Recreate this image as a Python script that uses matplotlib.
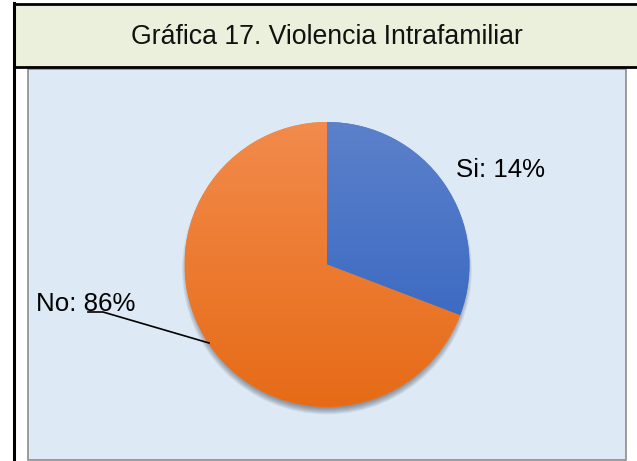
"""Gráfica 17 - Violencia Intrafamiliar (pie inside a table-like frame)."""

import numpy as np
import matplotlib.pyplot as plt
from matplotlib.patches import Rectangle, Circle
from matplotlib.colors import LinearSegmentedColormap

plt.rcParams["font.family"] = ["Liberation Sans", "DejaVu Sans"]

W, H = 637, 461

categories = ["Si", "No"]
# angular share of each slice as drawn in the source picture
slice_shares = [30.8, 69.2]
# percentages printed on the labels of the source picture
label_pcts = [14, 86]
title = "Gráfica 17. Violencia Intrafamiliar"

top_colors = ["#5c81cb", "#f28b4c"]
bottom_colors = ["#2f61be", "#e66b16"]


def py(y):
    # pixel row (from top) -> data y
    return H - y


fig = plt.figure(figsize=(W / 100, H / 100), dpi=100)
ax = fig.add_axes([0, 0, 1, 1])
ax.set_xlim(0, W)
ax.set_ylim(0, H)
ax.set_aspect("equal")
ax.axis("off")

# header cell
ax.add_patch(Rectangle((14, py(67.5)), W - 14 + 2, 63.5, facecolor="#ebf0dd",
                       edgecolor="none", zorder=0))
ax.plot([14, W], [py(4), py(4)], color="black", lw=2, zorder=1)
ax.plot([14, W], [py(67.5), py(67.5)], color="black", lw=2, zorder=1)
ax.plot([14, 14], [py(3), 0], color="black", lw=2.2, zorder=1)
ax.text(326.5, py(37), title, ha="center", va="center", fontsize=19.2,
        color="#111111", zorder=2)

# chart area
ax.add_patch(Rectangle((27.5, py(459.5)), 598, 390.5, facecolor="#dde9f5",
                       edgecolor="#8c8c8c", lw=1.2, zorder=0.5))

cx, cy, r = 327, py(264.5), 142.5

# soft shadow under the pie, mostly towards the bottom
for k in range(9):
    ax.add_patch(Circle((cx, cy - 5), r + 2.5 - k * 0.8, facecolor="#1c2633",
                        edgecolor="none", alpha=0.06, zorder=1))

wedges, _ = ax.pie(slice_shares, center=(cx, cy), radius=r, startangle=90,
                   counterclock=False, colors=top_colors,
                   wedgeprops=dict(linewidth=0), frame=True)
ax.set_xlim(0, W)
ax.set_ylim(0, H)
ax.axis("off")

grad = np.linspace(0, 1, 256).reshape(-1, 1)
for w, c0, c1 in zip(wedges, top_colors, bottom_colors):
    w.set_zorder(2)
    cmap = LinearSegmentedColormap.from_list("g", [c1, c0])
    im = ax.imshow(grad, cmap=cmap, origin="lower", aspect="auto",
                   extent=(cx - r, cx + r, cy - r, cy + r), zorder=3)
    im.set_clip_path(w)

# labels
ax.text(456, py(170), f"{categories[0]}: {label_pcts[0]}%", ha="left",
        va="center", fontsize=18.6, color="black", zorder=5)
ax.text(36, py(304), f"{categories[1]}: {label_pcts[1]}%", ha="left",
        va="center", fontsize=18.6, color="black", zorder=5)
ax.plot([88, 103, 209], [py(312), py(312), py(343)], color="black", lw=1.2,
        zorder=5)

fig.savefig("out.png", dpi=100, facecolor="white")
